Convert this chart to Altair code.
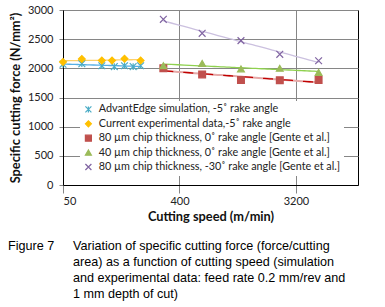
import altair as alt
import pandas as pd

# ---- data ----
series_names = [
    "AdvantEdge simulation, -5˚ rake angle",
    "Current experimental data,-5˚ rake angle",
    "80 µm chip thickness, 0˚ rake angle [Gente et al.]",
    "40 µm chip thickness, 0˚ rake angle [Gente et al.]",
    "80 µm chip thickness, -30˚ rake angle [Gente et al.]",
]
adv_speed = [50, 70, 100, 125, 150, 175, 200]
adv_force = [2070, 2080, 2045, 2030, 2045, 2030, 2045]
exp_speed = [50, 70, 100, 120, 150, 200]
exp_force = [2110, 2160, 2135, 2135, 2165, 2135]
gente_speed = [300, 600, 1200, 2400, 4800]
gente80_0 = [2000, 1895, 1800, 1795, 1800]
gente40_0 = [2045, 2085, 1990, 2000, 1930]
gente80_m30 = [2840, 2600, 2475, 2240, 2130]

x_ticks = [50, 400, 3200]
y_ticks = [0, 500, 1000, 1500, 2000, 2500, 3000]

x_title = "Cutting speed (m/min)"
y_title = "Specific cutting force (N/mm²)"
fig_label = "Figure 7"
caption_lines = [
    "Variation of specific cutting force (force/cutting",
    "area) as a function of cutting speed (simulation",
    "and experimental data:  feed rate 0.2 mm/rev and",
    "1 mm depth of cut)",
]

# ---- build table ----
rows = []
for s, f in zip(adv_speed, adv_force):
    rows.append({"series": series_names[0], "speed": s, "force": f})
for s, f in zip(exp_speed, exp_force):
    rows.append({"series": series_names[1], "speed": s, "force": f})
for vals, name in [(gente80_0, series_names[2]), (gente40_0, series_names[3]), (gente80_m30, series_names[4])]:
    for s, f in zip(gente_speed, vals):
        rows.append({"series": name, "speed": s, "force": f})
df = pd.DataFrame(rows)

point_colors = ["#4bacc6", "#ffc000", "#c0504d", "#9bbb59", "#8064a2"]
line_colors = ["#55aee6", "#fdd06a", "#c00000", "#8fd14f", "#cbc0df"]
shapes = [
    "M-1,-1L1,1M-1,1L1,-1M0,-1L0,1",
    "diamond",
    "square",
    "triangle-up",
    "M-1,-1L1,1M-1,1L1,-1",
]

xenc = alt.X("speed:Q", scale=alt.Scale(type="log", domain=[50, 9700], nice=False),
             axis=alt.Axis(values=x_ticks, format="d", title=x_title, tickSize=8,
                           labelPadding=2, titlePadding=4, grid=True))
yenc = alt.Y("force:Q", scale=alt.Scale(domain=[0, 3000], nice=False),
             axis=alt.Axis(values=y_ticks, format="d", title=y_title, tickSize=4,
                           labelPadding=6, titlePadding=5, grid=True))

layers = []
for i, name in enumerate(series_names):
    base = alt.Chart(df).transform_filter(alt.datum.series == name).transform_regression(
        "speed", "force", method="log")
    if i == 2:
        layers.append(base.mark_line(color="#e6a9a8", strokeWidth=2).encode(x=xenc, y=yenc))
        layers.append(base.mark_line(color=line_colors[i], strokeWidth=1.3, strokeDash=[10, 10]).encode(x=xenc, y=yenc))
    else:
        layers.append(base.mark_line(color=line_colors[i], strokeWidth=1.3).encode(x=xenc, y=yenc))

legend = alt.Legend(title=None, orient="none", legendX=17, legendY=91, fillColor="white",
                    padding=3, labelFont="Lato", labelFontSize=10.8, labelColor="#222",
                    symbolSize=36, symbolStrokeWidth=1.2, rowPadding=2.4, labelOffset=5,
                    labelLimit=400)

points = alt.Chart(df).mark_point(filled=True, opacity=1, size=46, strokeWidth=1.2).encode(
    x=xenc, y=yenc,
    fill=alt.Fill("series:N", scale=alt.Scale(domain=series_names, range=point_colors), legend=legend),
    stroke=alt.Stroke("series:N", scale=alt.Scale(domain=series_names, range=point_colors), legend=legend),
    shape=alt.Shape("series:N", scale=alt.Scale(domain=series_names, range=shapes), legend=legend),
)
layers.append(points)

one = pd.DataFrame({"k": [0]})
fig_text = alt.Chart(one).mark_text(align="left", baseline="alphabetic", font="Liberation Sans",
                                    fontSize=12.6, color="black").encode(
    x=alt.value(-55), y=alt.value(240), text=alt.value(fig_label))
cap_text = alt.Chart(one).mark_text(align="left", baseline="alphabetic", font="Liberation Sans",
                                    fontSize=12.6, lineHeight=15.9, color="black").encode(
    x=alt.value(10), y=alt.value(240), text=alt.value(caption_lines))
layers += [fig_text, cap_text]

chart = alt.layer(*layers).properties(
    width=295, height=175,
    padding={"left": 63, "top": 10, "right": 27, "bottom": 122},
    autosize=alt.AutoSizeParams(type="none"),
    background="white",
).configure_view(stroke="black", strokeWidth=1).configure_axis(
    gridColor="#868686", gridWidth=1, domainColor="#000000", tickColor="#868686",
    labelFont="Lato", labelFontSize=11, labelColor="#222",
    titleFont="Lato", titleFontSize=12.8, titleFontWeight="bold", titleColor="#111",
)

chart.save("out.html", embed_options={"renderer": "svg", "actions": False})
